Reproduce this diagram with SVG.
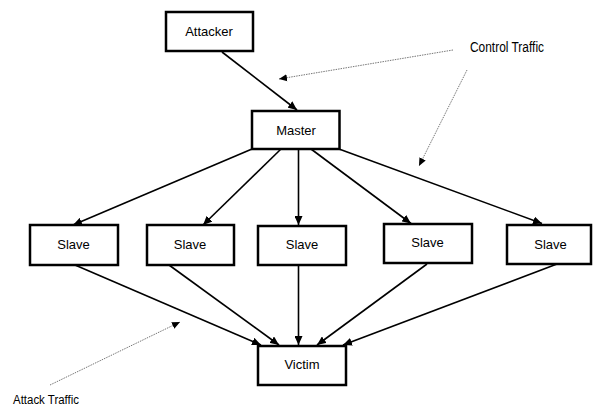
<svg xmlns="http://www.w3.org/2000/svg" width="593" height="407" viewBox="0 0 593 407">
<defs>
<style>
.box{fill:#fff;stroke:#000;stroke-width:2.5}
.lbl{font-family:"Liberation Sans",Arial,sans-serif;font-size:13px;fill:#000;text-anchor:middle}
.note{font-family:"Liberation Sans",Arial,sans-serif;font-size:14px;fill:#000}
.edge{stroke:#000;stroke-width:1.6;fill:none}
.dot{stroke:#777;stroke-width:1;stroke-dasharray:1.5 1;fill:none}
</style>
<marker id="ah" markerUnits="userSpaceOnUse" markerWidth="10" markerHeight="8" refX="9" refY="4" orient="auto">
<path d="M0,0 L9,4 L0,8 Z" fill="#000"/>
</marker>
<marker id="ahs" markerUnits="userSpaceOnUse" markerWidth="9" markerHeight="8" refX="8" refY="4" orient="auto">
<path d="M0,0.5 L8,4 L0,7.5 Z" fill="#000"/>
</marker>
</defs>
<rect width="593" height="407" fill="#fff"/>
<g id="connectors">
<line class="edge" x1="222" y1="52" x2="297" y2="110" marker-end="url(#ah)"/>
<line class="edge" x1="252" y1="149" x2="73" y2="225" marker-end="url(#ah)"/>
<line class="edge" x1="281" y1="149" x2="203" y2="225" marker-end="url(#ah)"/>
<line class="edge" x1="298.5" y1="149" x2="298.5" y2="225" marker-end="url(#ah)"/>
<line class="edge" x1="311" y1="149" x2="411" y2="223.5" marker-end="url(#ah)"/>
<line class="edge" x1="339" y1="149" x2="542" y2="223.5" marker-end="url(#ah)"/>
<line class="edge" x1="75" y1="265" x2="261" y2="345" marker-end="url(#ah)"/>
<line class="edge" x1="169" y1="265" x2="279" y2="345" marker-end="url(#ah)"/>
<line class="edge" x1="298.5" y1="265" x2="298.5" y2="345" marker-end="url(#ah)"/>
<line class="edge" x1="427" y1="264" x2="317" y2="345" marker-end="url(#ah)"/>
<line class="edge" x1="557" y1="264" x2="343" y2="345" marker-end="url(#ah)"/>
<line class="dot" x1="453" y1="50" x2="279" y2="79" marker-end="url(#ahs)"/>
<line class="dot" x1="467" y1="70" x2="419" y2="166" marker-end="url(#ahs)"/>
<line class="dot" x1="50" y1="385" x2="180" y2="322" marker-end="url(#ahs)"/>
</g>
<g id="attacker"><rect class="box" x="166" y="12" width="87" height="39"/><text class="lbl" x="209" y="35.5">Attacker</text></g>
<g id="master"><rect class="box" x="252" y="111" width="87.5" height="38"/><text class="lbl" x="296" y="134.5">Master</text></g>
<g id="slave1"><rect class="box" x="30" y="225" width="88" height="40"/><text class="lbl" x="73.5" y="248.5">Slave</text></g>
<g id="slave2"><rect class="box" x="147" y="225" width="87" height="40"/><text class="lbl" x="190" y="248.5">Slave</text></g>
<g id="slave3"><rect class="box" x="258" y="226" width="88" height="39"/><text class="lbl" x="302" y="248.5">Slave</text></g>
<g id="slave4"><rect class="box" x="384" y="224" width="88" height="39"/><text class="lbl" x="427.5" y="247">Slave</text></g>
<g id="slave5"><rect class="box" x="507" y="225" width="84" height="39"/><text class="lbl" x="550.5" y="248.5">Slave</text></g>
<g id="victim"><rect class="box" x="258" y="346" width="88" height="39"/><text class="lbl" x="302" y="368.5">Victim</text></g>
<g id="notes">
<text class="note" x="470" y="51.5" textLength="74" lengthAdjust="spacingAndGlyphs">Control Traffic</text>
<text class="note" x="13" y="404" style="font-size:12.5px" textLength="66" lengthAdjust="spacingAndGlyphs">Attack Traffic</text>
</g>
</svg>
